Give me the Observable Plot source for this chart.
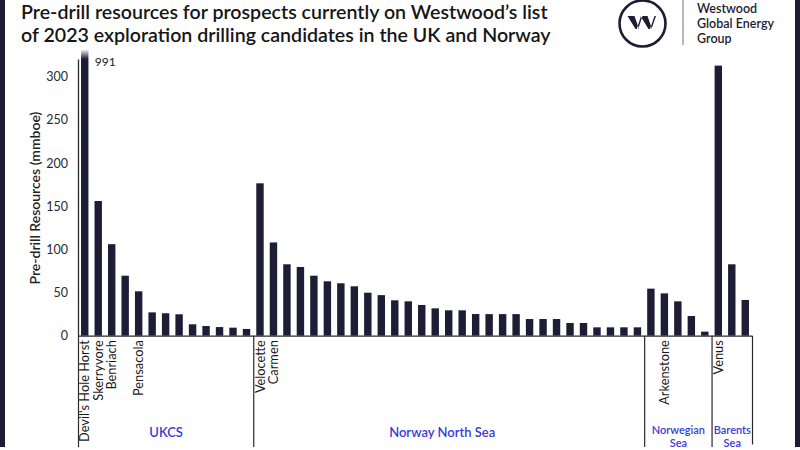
<!DOCTYPE html>
<html>
<head>
<meta charset="utf-8">
<script src="https://cdn.jsdelivr.net/npm/d3@7"></script>
<script src="https://cdn.jsdelivr.net/npm/@observablehq/plot@0.6"></script>
<style>
  html, body { margin: 0; padding: 0; background: #fff; }
  #wrap { position: relative; width: 800px; height: 450px; overflow: hidden; background: #fff; font-family: Lato, "Open Sans", sans-serif; }
  #title { position: absolute; left: 21px; top: 1px; font-size: 19.6px; line-height: 22.5px; font-weight: 600; color: #161616; white-space: nowrap; }
  #chart { position: absolute; left: 0; top: 50px; }
  #logo { position: absolute; left: 600px; top: 0; }
  .edge { position: absolute; top: 0; width: 5px; height: 447px; background: #1e1c33; }
</style>
</head>
<body>
<div id="wrap">
  <div id="chart"></div>
  <div id="title">Pre-drill resources for prospects currently on Westwood’s list<br>of 2023 exploration drilling candidates in the UK and Norway</div>
  <svg id="logo" width="200" height="55" viewBox="0 0 200 55">
    <circle cx="42.5" cy="23.5" r="23" fill="none" stroke="#1e1c33" stroke-width="2.6"></circle>
    <path d="M27.5,16 L34.5,16 L39,29 L35.5,29 Z M36.8,29 L38.2,29 L42.5,16 L41,16 Z M40.5,16 L47.5,16 L52,29 L48.5,29 Z M50,29 L51.5,29 L56,16 L54.5,16 Z" fill="#1e1c33"></path>
    <line x1="83" y1="0" x2="83" y2="45" stroke="#9a9a9a" stroke-width="1.4"></line>
    <text font-family="Lato" font-weight="600" font-size="12.5" fill="#1e1c33">
      <tspan x="97" y="13">Westwood</tspan>
      <tspan x="97" y="28.1">Global Energy</tspan>
      <tspan x="97" y="43.2">Group</tspan>
    </text>
  </svg>
  <div class="edge" style="left:0"></div>
  <div class="edge" style="left:795px"></div>
</div>
<script>
// ---- Data (mmboe) ----
const ukcsValues = [991, 156, 106, 69.5, 51.4, 27, 26, 24.8, 13.2, 11.2, 10, 9.3, 7.8];
const ukcsLabels = ["Devil's Hole Horst", "Skerryvore", "Benriach", "", "Pensacola", "", "", "", "", "", "", "", ""];

const norwayNSValues = [176.5, 108, 82.7, 79.6, 69.5, 63, 60.7, 57.2, 49.8, 47, 41, 39.8, 35.6, 31.7, 29.4,
  29.4, 25.1, 25, 25, 25, 19.3, 19.3, 19.3, 14.7, 14.7, 9.7, 9.7, 9.7, 9.7];
const norwayNSLabels = ["Velocette", "Carmen"];

const norwegianSeaValues = [54.5, 49, 39.8, 22.8, 4.7];
const norwegianSeaLabels = ["", "Arkenstone"];

const barentsSeaValues = [312.8, 82.7, 41.4];
const barentsSeaLabels = ["Venus"];

const groupNames = ["UKCS", "Norway North Sea", "Norwegian\nSea", "Barents\nSea"];
const yTicks = [0, 50, 100, 150, 200, 250, 300];
const yLabel = "Pre-drill Resources (mmboe)";

// ---- Build table ----
const groupsSrc = [
  [ukcsValues, ukcsLabels],
  [norwayNSValues, norwayNSLabels],
  [norwegianSeaValues, norwegianSeaLabels],
  [barentsSeaValues, barentsSeaLabels]
];
const data = [];
const groups = [];
groupsSrc.forEach(([vals, labs], g) => {
  const start = data.length;
  vals.forEach((v, i) => data.push({id: g + "-" + i, group: g, value: v, label: labs[i] || ""}));
  const ids = data.slice(start).map(d => d.id);
  groups.push({name: groupNames[g], first: ids[0], last: ids[ids.length - 1], mid: ids[Math.floor(ids.length / 2)], size: ids.length});
});

// ---- Layout ----
const W = 800, H = 400;
const mL = 78, mR = 48, mT = 9.4, mB = 114.3;
const yMax = 320;
const step = (W - mL - mR) / data.length;
const barColor = "#1f1d35";
const blue = "#3a3ad8";
const ink = "#2b2b2b";

const over = data.filter(d => d.value > yMax);
const labeled = data.filter(d => d.label);

const plot = Plot.plot({
  width: W, height: H,
  marginLeft: mL, marginRight: mR, marginTop: mT, marginBottom: mB,
  style: {fontFamily: "Lato, sans-serif", background: "white", overflow: "hidden"},
  x: {domain: data.map(d => d.id), paddingInner: 0.45, paddingOuter: 0.225, round: false, axis: null},
  y: {domain: [0, yMax], axis: null},
  marks: [
    Plot.barY(data.filter(d => d.value <= yMax), {x: "id", y: "value", fill: barColor}),
    Plot.barY(over, {x: "id", y: "value", fill: "url(#fadeTop)"}),
    Plot.axisY({ticks: yTicks, tickSize: 0, tickPadding: 10.5, fontSize: 12.5, fill: ink, label: null}),
    Plot.ruleY([0], {stroke: "#2a2a2a", strokeWidth: 1.3}),
    Plot.ruleX([groups[0].first], {y1: 0, y2: yMax, dx: -step / 2, stroke: "#2a2a2a", strokeWidth: 1.3}),
    Plot.ruleX(groups, {x: "first", y1: 0, y2: -129, dx: -step / 2, stroke: "#2a2a2a", strokeWidth: 1.2}),
    Plot.ruleX([groups[groups.length - 1].last], {y1: 0, y2: -126, dx: step / 2, stroke: "#2a2a2a", strokeWidth: 1.2}),
    Plot.text(labeled, {x: "id", y: 0, text: "label", rotate: -90, textAnchor: "end", dy: 4, fontSize: 12.8, fill: "#1a1a1a"}),
    Plot.text([groups[0]], {x: "mid", text: "name", frameAnchor: "bottom", textAnchor: "middle", lineAnchor: "top", dy: 92, fontSize: 13, fontWeight: 600, fill: blue}),
    Plot.text([groups[1]], {x: "mid", text: "name", frameAnchor: "bottom", textAnchor: "middle", lineAnchor: "top", dy: 92, dx: -7, fontSize: 13, fontWeight: 600, fill: blue}),
    Plot.text(groups.slice(2), {x: "mid", text: "name", frameAnchor: "bottom", textAnchor: "middle", lineAnchor: "top", dy: 89, fontSize: 11, lineHeight: 1.15, fontWeight: 600, fill: blue}),
    Plot.text([yLabel], {frameAnchor: "left", textAnchor: "middle", rotate: -90, dx: -43, fontSize: 14, fontWeight: 600, fill: "#222"}),
    Plot.text(over, {x: "id", text: d => String(d.value), frameAnchor: "top", textAnchor: "start", dx: 9.5, dy: -2.5, fontSize: 12, fill: "#222"})
  ]
});

const svgEl = plot.tagName.toLowerCase() === "svg" ? plot : plot.querySelector("svg");
const svg = d3.select(svgEl).style("overflow", "hidden");
const grad = svg.insert("defs", ":first-child").append("linearGradient")
  .attr("id", "fadeTop").attr("gradientUnits", "userSpaceOnUse")
  .attr("x1", 0).attr("y1", 0).attr("x2", 0).attr("y2", 9);
grad.append("stop").attr("offset", "0%").attr("stop-color", "#e6e6ea");
grad.append("stop").attr("offset", "100%").attr("stop-color", barColor);

document.getElementById("chart").appendChild(plot);
</script>
</body>
</html>
